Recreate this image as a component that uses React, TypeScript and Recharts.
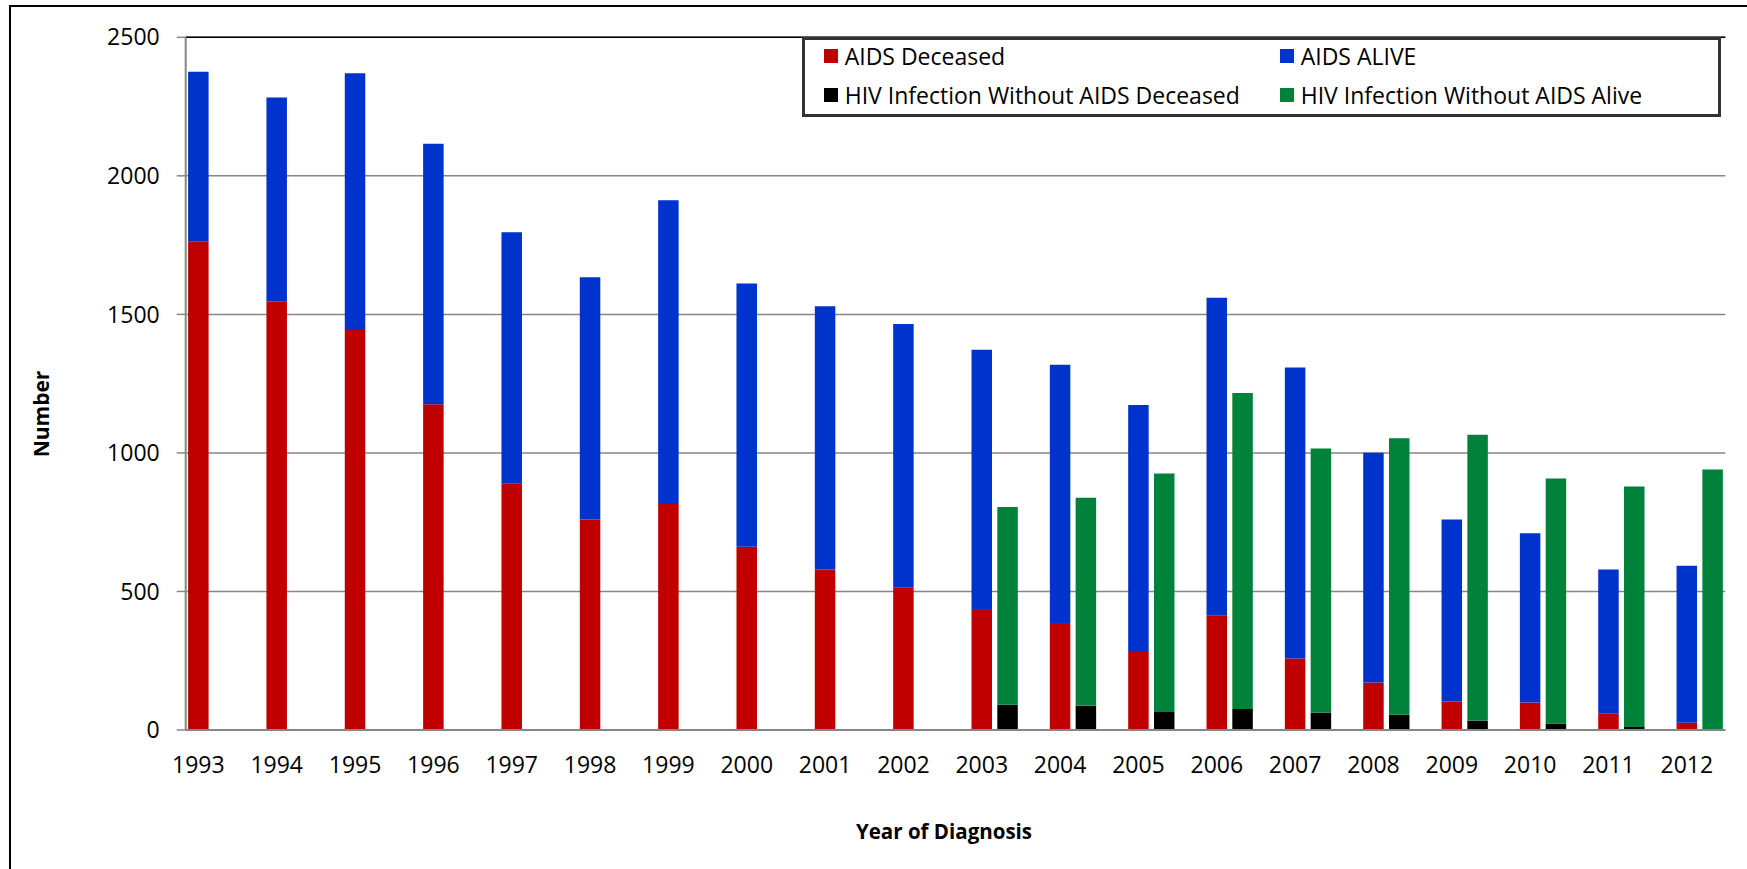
import React from "react";
import {
  BarChart,
  Bar,
  XAxis,
  YAxis,
  CartesianGrid,
  ReferenceLine,
  Legend,
} from "recharts";

const years = [
  "1993", "1994", "1995", "1996", "1997", "1998", "1999", "2000", "2001", "2002",
  "2003", "2004", "2005", "2006", "2007", "2008", "2009", "2010", "2011", "2012",
];
const aidsDeceased = [1764, 1547, 1444, 1176, 889, 760, 816, 661, 579, 513, 437, 386, 285, 412, 258, 171, 103, 99, 60, 26];
const aidsAlive = [612, 736, 926, 940, 907, 874, 1096, 950, 950, 952, 935, 932, 888, 1148, 1050, 830, 657, 611, 519, 567];
const hivDeceased = [null, null, null, null, null, null, null, null, null, null, 91, 88, 65, 76, 63, 55, 34, 23, 11, 3];
const hivAlive = [null, null, null, null, null, null, null, null, null, null, 714, 750, 861, 1140, 953, 998, 1032, 885, 868, 937];
const yTicks = [0, 500, 1000, 1500, 2000, 2500];

const series = [
  { key: "aidsDeceased", name: "AIDS Deceased", color: "#C00000", stack: "aids" },
  { key: "aidsAlive", name: "AIDS ALIVE", color: "#0033CC", stack: "aids" },
  { key: "hivDeceased", name: "HIV Infection Without AIDS Deceased", color: "#000000", stack: "hiv" },
  { key: "hivAlive", name: "HIV Infection Without AIDS Alive", color: "#00823B", stack: "hiv" },
];

const data = years.map((year, i) => ({
  year,
  aidsDeceased: aidsDeceased[i],
  aidsAlive: aidsAlive[i],
  hivDeceased: hivDeceased[i],
  hivAlive: hivAlive[i],
}));

const FONT = "'Open Sans', 'Liberation Sans', sans-serif";
const AXIS_GRAY = "#868686";

// year labels sit under the first (AIDS) bar of each pair, not the group centre
function YearTick({ x, y, payload }: any) {
  return (
    <text
      x={x - 12.9}
      y={y}
      dy="0.71em"
      textAnchor="middle"
      fontSize={23}
      fontFamily={FONT}
      fill="#000"
    >
      {payload.value}
    </text>
  );
}

function LegendBox() {
  return (
    <div
      style={{
        position: "relative",
        width: 919,
        height: 80,
        boxSizing: "border-box",
        border: "3.5px solid #333",
        background: "#fff",
        fontFamily: FONT,
        fontSize: 23,
        color: "#000",
      }}
    >
      {series.map((s, i) => (
        <div
          key={s.key}
          style={{
            position: "absolute",
            left: 19 + (i % 2) * 456,
            top: -3 + Math.floor(i / 2) * 39,
            height: 39,
            display: "flex",
            alignItems: "center",
            whiteSpace: "nowrap",
          }}
        >
          <span
            style={{
              display: "inline-block",
              width: 14,
              height: 14,
              background: s.color,
              marginRight: 7,
            }}
          />
          <span style={{ lineHeight: "39px" }}>{s.name}</span>
        </div>
      ))}
    </div>
  );
}

export default function App() {
  return (
    <div
      style={{
        position: "absolute",
        left: 0,
        top: 0,
        width: 1747,
        height: 869,
        background: "#fff",
        fontFamily: FONT,
        overflow: "hidden",
      }}
    >
      <div
        style={{
          position: "absolute",
          left: 9,
          top: 5,
          width: 1760,
          height: 900,
          borderTop: "2.5px solid #000",
          borderLeft: "2.5px solid #000",
          pointerEvents: "none",
        }}
      />
      <BarChart
        width={1747}
        height={869}
        data={data}
        margin={{ top: 37.3, right: 21.7, bottom: 79, left: 85.7 }}
        barSize={20.5}
        barGap={5.3}
      >
        <CartesianGrid vertical={false} stroke={AXIS_GRAY} strokeWidth={1.5} />
        <XAxis
          dataKey="year"
          interval={0}
          height={60}
          tickLine={false}
          tickSize={0}
          tickMargin={27}
          tick={<YearTick />}
          axisLine={{ stroke: AXIS_GRAY, strokeWidth: 2 }}
          padding={{ left: -13.6, right: -13.6 }}
        />
        <YAxis
          width={100}
          domain={[0, 2500]}
          ticks={yTicks}
          interval={0}
          tickSize={9}
          tickMargin={17}
          tickLine={{ stroke: AXIS_GRAY, strokeWidth: 1.5 }}
          axisLine={{ stroke: AXIS_GRAY, strokeWidth: 2 }}
          tick={{ fontSize: 23, fill: "#000", fontFamily: FONT }}
        />
        <YAxis
          yAxisId="right"
          orientation="right"
          width={0}
          domain={[0, 2500]}
          tick={false}
          tickLine={false}
          axisLine={{ stroke: "#000", strokeWidth: 1.5 }}
        />
        <ReferenceLine y={2500} stroke="#000" strokeWidth={1.5} />
        {series.map((s) => (
          <Bar
            key={s.key}
            dataKey={s.key}
            name={s.name}
            stackId={s.stack}
            fill={s.color}
            isAnimationActive={false}
          />
        ))}
        <Legend
          layout="vertical"
          align="center"
          verticalAlign="middle"
          content={() => <LegendBox />}
          wrapperStyle={{ position: "absolute", left: 801.7, top: 36.7, width: 919, height: 80 }}
        />
      </BarChart>
      <div
        style={{
          position: "absolute",
          left: 41,
          top: 414,
          transform: "translate(-50%, -50%) rotate(-90deg)",
          fontWeight: 700,
          fontSize: 21,
          whiteSpace: "nowrap",
          color: "#000",
        }}
      >
        Number
      </div>
      <div
        style={{
          position: "absolute",
          left: 944,
          top: 831,
          transform: "translate(-50%, -50%)",
          fontWeight: 700,
          fontSize: 20.5,
          whiteSpace: "nowrap",
          color: "#000",
        }}
      >
        Year of Diagnosis
      </div>
    </div>
  );
}
